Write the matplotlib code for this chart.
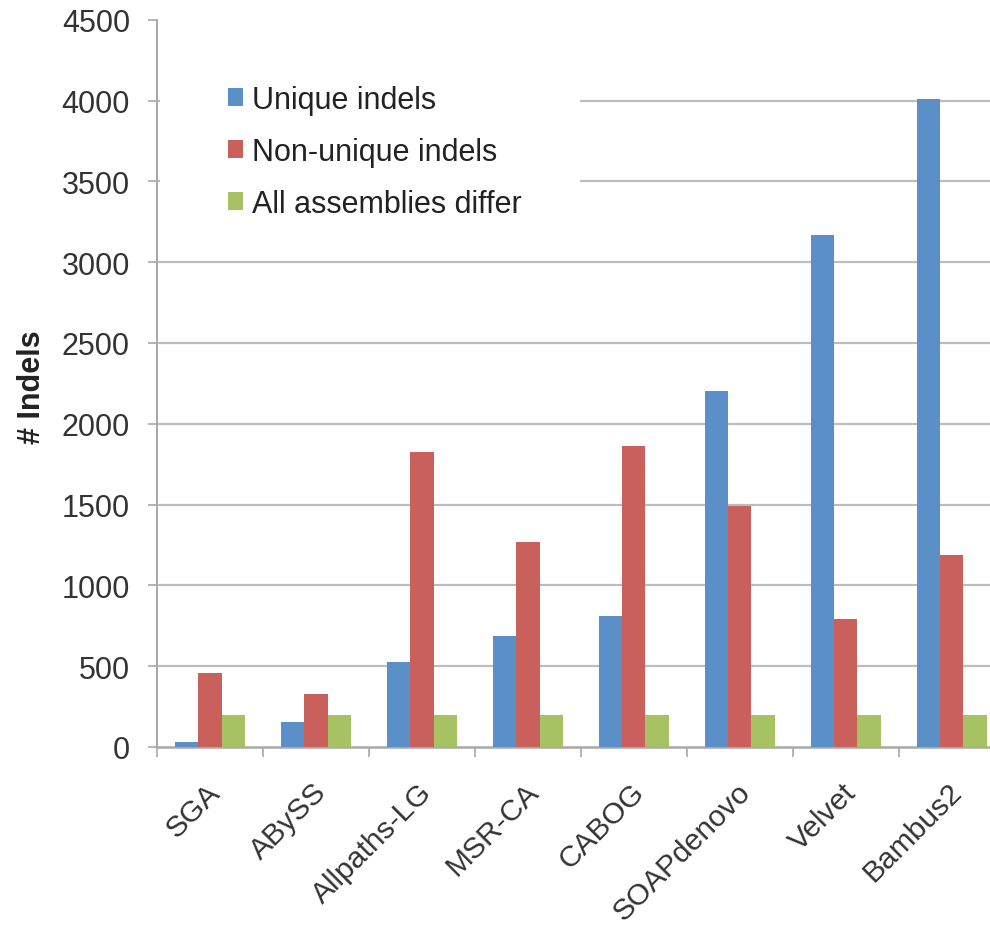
import numpy as np
import matplotlib
matplotlib.use('Agg')
from matplotlib import pyplot as plt
from matplotlib.patches import Rectangle
from matplotlib.transforms import ScaledTranslation

# data
assemblers = ['SGA', 'ABySS', 'Allpaths-LG', 'MSR-CA', 'CABOG', 'SOAPdenovo', 'Velvet', 'Bambus2']
unique_indels = [30, 155, 525, 685, 810, 2200, 3170, 4010]
nonunique_indels = [455, 325, 1825, 1270, 1865, 1490, 795, 1190]
all_differ = [195, 195, 195, 195, 195, 195, 195, 195]

series_names = ['Unique indels', 'Non-unique indels', 'All assemblies differ']
colors = ['#5b8fc8', '#c9605c', '#a6c263']
yticks = np.arange(0, 4501, 500)

plt.rcParams['font.family'] = ['Liberation Sans', 'DejaVu Sans']

fig = plt.figure(figsize=(9.9, 9.28), dpi=100)
W, H = 990, 928
ax = fig.add_axes([157 / W, (H - 748) / H, (1004.7 - 157) / W, (748 - 20.7) / H])

x = np.arange(len(assemblers))
bw = 0.22
for i, (vals, name) in enumerate(zip([unique_indels, nonunique_indels, all_differ], series_names)):
    ax.bar(x + (i - 1) * bw, vals, width=bw, color=colors[i], label=name, zorder=3)

ax.set_xlim(-0.5, len(assemblers) - 0.5)
ax.set_ylim(0, 4500)

# gridlines (no line at the top value)
for yv in yticks[1:-1]:
    ax.axhline(yv, color='#bdbdbd', lw=1.6, zorder=1)

for s in ['top', 'right']:
    ax.spines[s].set_visible(False)
ax.spines['left'].set_color('#a8a8a8')
ax.spines['left'].set_linewidth(1.4)
ax.spines['bottom'].set_color('#a8a8a8')
ax.spines['bottom'].set_linewidth(1.8)

ax.set_yticks(yticks)
ax.set_yticklabels([str(v) for v in yticks])
ax.tick_params(axis='y', length=6.5, width=1.2, color='#a8a8a8', pad=13,
               labelsize=22, labelcolor='#333333')

ax.set_xticks(x)
ax.set_xticks(np.arange(-0.5, len(assemblers)), minor=True)
ax.tick_params(axis='x', which='major', length=0, pad=29, labelsize=21.5, labelcolor='#333333')
ax.tick_params(axis='x', which='minor', length=7, width=1.2, color='#a8a8a8')
ax.set_xticklabels(assemblers, rotation=45, ha='right', va='center', rotation_mode='anchor')
for lab in ax.get_xticklabels():
    lab.set_transform(lab.get_transform() + ScaledTranslation(0.06, 0, fig.dpi_scale_trans))

fig.text(32 / W, 1 - 387 / H, '# Indels', rotation=90, ha='center', va='center',
         fontsize=22, fontweight='bold', color='#222222')

# white area behind legend
ax.add_patch(Rectangle((3 / 847.7, (748 - 240) / 727.3), 420 / 847.7, 180 / 727.3,
                       transform=ax.transAxes, facecolor='white', edgecolor='none', zorder=2))

leg = ax.legend(loc='upper left', bbox_to_anchor=(228 / W, 1 - 86 / H),
                bbox_transform=fig.transFigure, frameon=False, fontsize=22,
                handlelength=0.5, handleheight=0.5, handletextpad=0.3,
                labelspacing=0.72, borderpad=0, borderaxespad=0)
for t in leg.get_texts():
    t.set_color('#222222')

plt.savefig('out.png', dpi=100)
